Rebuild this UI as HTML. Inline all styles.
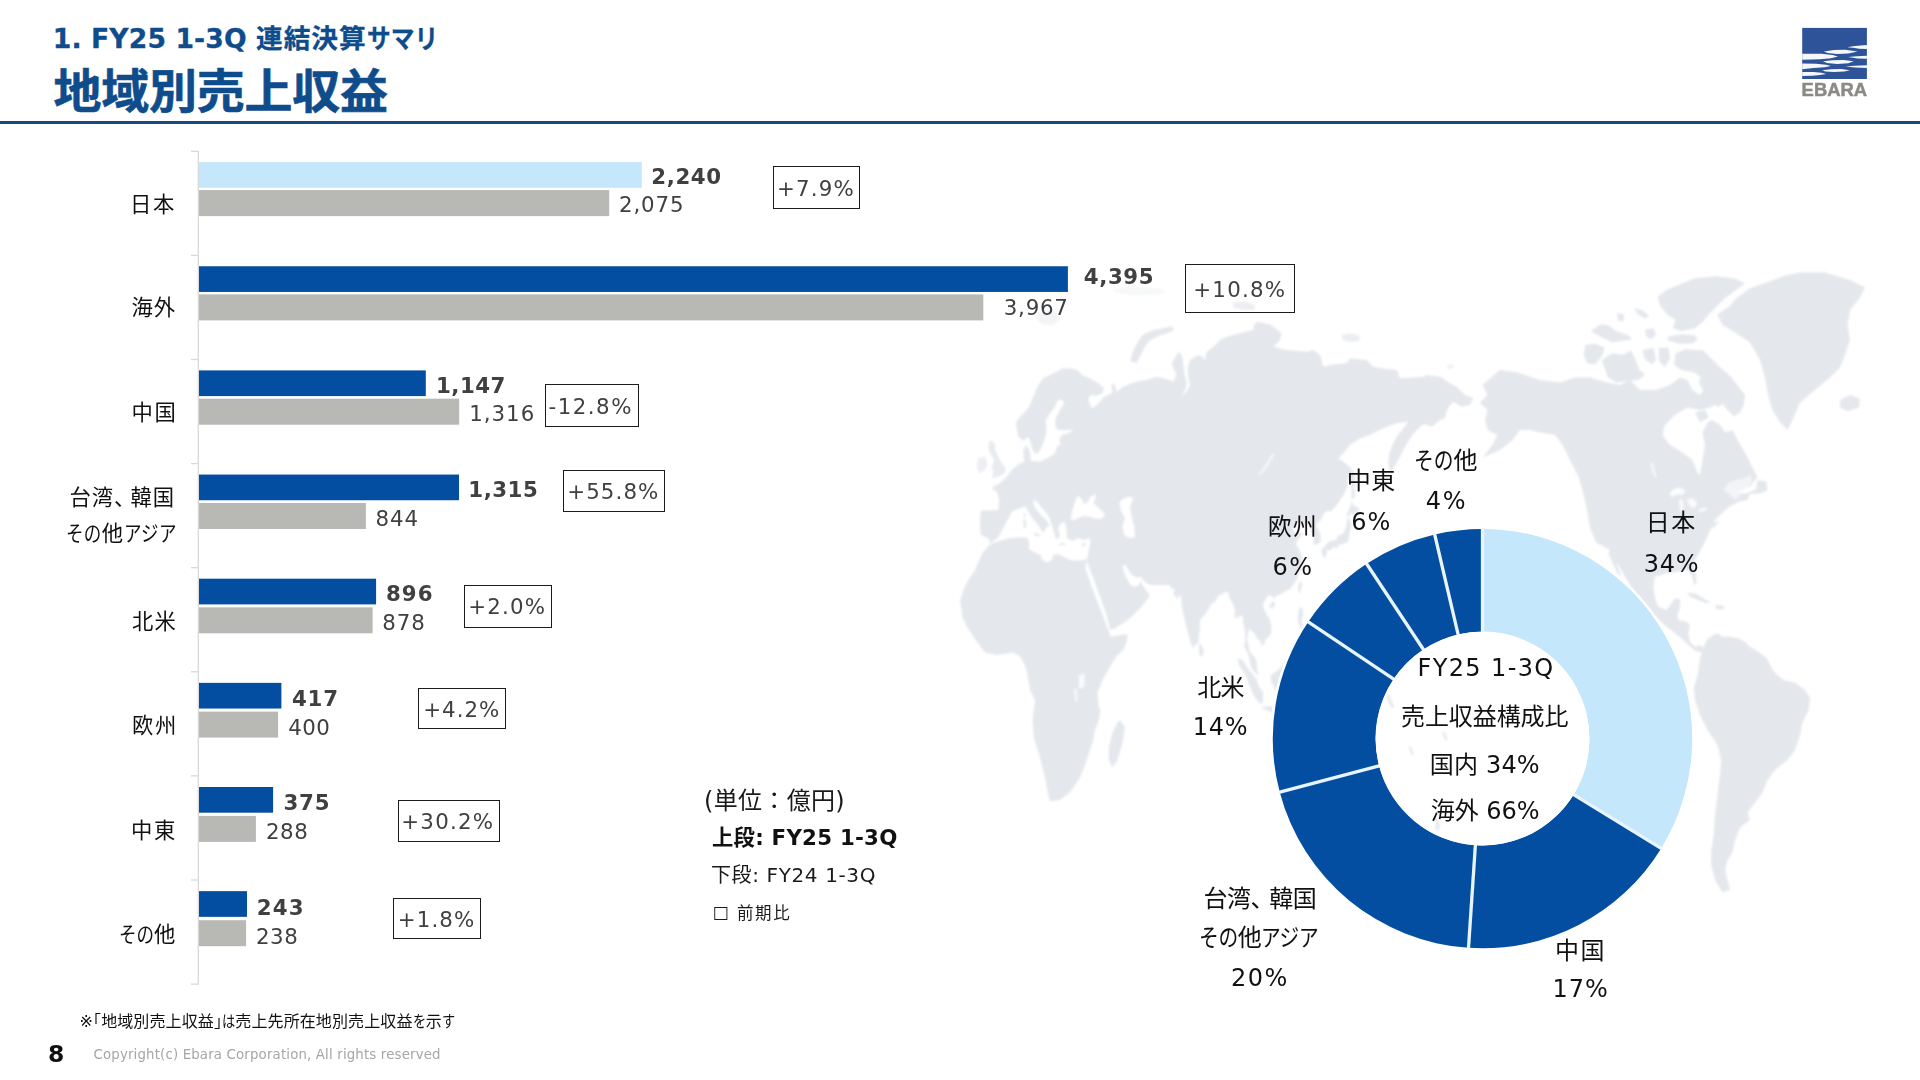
<!DOCTYPE html>
<html lang="ja"><head><meta charset="utf-8"><title>地域別売上収益</title>
<style>
*{margin:0;padding:0;box-sizing:border-box}
html,body{width:1920px;height:1080px;background:#fff;overflow:hidden}
body{position:relative;font-family:"DejaVu Sans","Liberation Sans","Noto Sans CJK JP",sans-serif;color:#111}
.abs{position:absolute;white-space:nowrap}
.t{position:absolute;white-space:nowrap;line-height:1}
.rule{left:0;top:120.8px;width:1920px;height:3.3px;background:#174A82}
.box{border:1.7px solid #1c1c1c}
.k{letter-spacing:-0.15em}
.h{letter-spacing:-0.42em}
</style></head>
<body>
<div class="t" id="h1" style="left:52.80px;top:25.80px;font-size:26.67px;color:#0F4C8C;font-weight:bold;-webkit-text-stroke:0.3px #0F4C8C;"><span style="letter-spacing:0.1px">1. FY25 1-3Q </span><span style="letter-spacing:1.0px">連結決算</span><span style="display:inline-block;transform:scaleX(0.89);transform-origin:0 50%;margin-right:-0.330em">サマリ</span></div>
<div class="t" id="h2" style="left:53.50px;top:68.00px;font-size:48px;color:#0F4C8C;font-weight:bold;letter-spacing:-0.250px;-webkit-text-stroke:0.6px #0F4C8C;transform:scaleY(0.96);transform-origin:50% 50%;">地域別売上収益</div>
<div class="abs rule"></div>
<svg class="abs" style="left:0;top:0" width="1920" height="1080" viewBox="0 0 1920 1080">
<defs><linearGradient id="mfl" x1="948" x2="1005" y1="0" y2="0" gradientUnits="userSpaceOnUse"><stop offset="0" stop-color="#fff" stop-opacity="0.5"/><stop offset="1" stop-color="#fff" stop-opacity="1"/></linearGradient><linearGradient id="mft" x1="0" x2="0" y1="270" y2="380" gradientUnits="userSpaceOnUse"><stop offset="0" stop-color="#000" stop-opacity="0.55"/><stop offset="1" stop-color="#000" stop-opacity="0"/></linearGradient><mask id="mm" maskUnits="userSpaceOnUse" x="900" y="250" width="1020" height="700"><rect x="900" y="250" width="1020" height="700" fill="url(#mfl)"/></mask><filter id="mb" x="-2%" y="-2%" width="104%" height="104%"><feGaussianBlur stdDeviation="0.9"/></filter></defs>
<g fill="#E4E7EC" fill-rule="evenodd" filter="url(#mb)">
<path d="M992.5 487.5L1000.0 483.3L1005.8 477.5L1011.7 470.0L1018.3 464.2L1024.2 461.7L1023.3 450.0L1026.7 445.0L1030.0 451.7L1030.8 460.8L1040.0 461.7L1048.3 457.5L1055.0 453.3L1056.7 446.7L1060.8 445.0L1059.2 440.0L1061.7 435.0L1068.3 433.3L1073.3 429.7L1065.0 430.0L1057.5 430.0L1055.0 425.0L1055.8 418.3L1060.0 410.0L1064.2 403.3L1061.7 399.2L1057.5 400.8L1055.0 406.7L1050.0 413.3L1045.8 420.0L1046.7 430.0L1045.0 438.3L1041.7 446.7L1037.5 454.2L1033.3 451.7L1030.8 443.3L1028.3 436.7L1023.3 440.8L1018.3 436.7L1015.8 422.5L1020.0 416.7L1028.3 408.3L1033.3 396.7L1038.3 385.0L1043.3 378.3L1053.3 373.3L1063.3 368.3L1073.3 368.7L1078.3 370.8L1081.7 375.0L1090.0 378.3L1098.3 383.3L1104.2 388.3L1102.5 393.3L1096.7 395.8L1090.0 395.0L1088.3 400.0L1091.7 408.3L1096.7 405.0L1100.0 401.7L1104.2 396.7L1108.3 395.0L1112.5 392.5L1111.7 385.0L1114.2 383.3L1116.7 391.7L1123.3 386.7L1131.7 383.3L1136.7 381.7L1145.0 380.0L1151.7 378.3L1156.7 376.7L1163.3 378.3L1170.0 380.0L1173.3 381.7L1176.7 375.0L1173.3 368.3L1171.7 363.3L1175.0 358.3L1178.3 351.7L1181.7 355.0L1183.3 363.3L1184.2 373.3L1186.7 383.3L1185.0 390.0L1181.7 395.8L1186.7 391.7L1190.0 385.0L1188.3 376.7L1187.5 368.3L1190.0 360.0L1195.0 356.7L1200.0 355.0L1205.0 360.0L1206.7 351.7L1213.3 346.7L1220.0 340.0L1226.7 336.7L1240.0 333.3L1253.3 330.0L1253.3 326.7L1256.7 321.7L1270.0 324.2L1281.7 333.3L1280.0 340.0L1273.3 346.7L1286.7 350.0L1306.7 351.7L1313.3 350.0L1320.0 355.0L1323.3 366.7L1333.3 364.2L1346.7 363.3L1350.0 358.3L1366.7 360.0L1373.3 366.7L1381.7 368.3L1396.7 370.0L1400.0 378.3L1413.3 377.5L1423.3 376.7L1426.7 375.0L1440.0 376.7L1450.0 383.3L1456.7 386.7L1465.0 395.0L1473.3 398.3L1470.0 405.0L1461.7 406.7L1453.3 401.7L1446.7 410.0L1445.0 418.3L1440.0 420.0L1431.7 426.7L1423.3 424.2L1416.7 430.0L1410.0 438.3L1405.0 446.7L1400.0 456.7L1394.2 466.7L1390.8 473.3L1388.3 463.3L1389.2 453.3L1391.7 446.7L1396.7 436.7L1403.3 428.3L1408.3 421.7L1396.7 423.3L1383.3 428.3L1370.0 435.0L1360.0 438.3L1350.0 445.0L1343.3 453.3L1338.3 458.3L1343.3 461.7L1350.0 466.7L1353.3 475.0L1355.8 486.7L1347.9 478.0L1347.4 485.9L1344.2 493.7L1340.6 499.6L1336.4 505.5L1330.7 511.4L1326.8 511.0L1323.6 514.2L1321.4 519.3L1317.2 523.2L1316.0 526.0L1318.2 529.1L1320.7 535.0L1320.7 540.9L1318.7 543.6L1314.8 544.8L1313.1 544.4L1313.6 539.7L1313.8 535.0L1311.1 531.8L1310.4 528.7L1308.6 524.0L1305.0 525.2L1301.5 527.5L1302.5 521.2L1300.1 520.1L1295.9 525.2L1292.2 527.9L1293.9 531.8L1296.4 534.2L1299.6 532.2L1303.7 533.8L1300.1 537.0L1297.1 540.9L1295.9 544.0L1298.6 548.7L1301.3 554.6L1302.3 558.6L1301.3 563.3L1302.0 568.4L1299.1 572.3L1297.1 578.2L1294.7 582.9L1292.2 586.1L1289.7 589.2L1285.3 591.2L1282.9 592.8L1279.2 595.1L1275.5 596.3L1273.8 599.4L1272.6 596.7L1269.6 595.1L1266.9 597.1L1264.7 601.0L1262.7 604.9L1264.5 610.4L1267.2 615.6L1270.1 619.9L1271.3 627.3L1271.1 633.2L1268.1 637.6L1265.2 639.9L1264.5 643.5L1261.3 646.2L1260.5 641.1L1257.3 638.7L1254.6 633.2L1251.0 630.5L1250.0 627.7L1248.5 631.3L1246.8 639.1L1248.3 643.9L1249.7 651.7L1252.9 654.9L1254.9 657.6L1256.8 662.7L1257.1 669.4L1258.8 674.9L1256.8 674.5L1252.2 669.4L1250.0 663.5L1249.2 656.8L1246.0 649.7L1244.3 647.0L1245.1 639.1L1245.1 631.3L1243.6 625.4L1242.6 616.3L1239.9 615.6L1237.0 618.3L1234.5 616.7L1235.0 609.7L1232.8 603.8L1229.6 597.9L1228.4 592.8L1225.2 592.0L1221.5 594.7L1219.0 595.1L1216.6 598.7L1215.1 601.8L1211.9 603.8L1208.0 609.7L1205.0 614.8L1201.1 618.3L1199.6 621.4L1200.1 628.1L1198.9 635.2L1198.9 639.9L1196.9 643.9L1195.0 645.4L1193.3 648.6L1190.8 643.1L1188.4 634.0L1186.6 627.3L1184.7 619.5L1183.0 611.6L1181.7 605.7L1181.2 597.9L1180.3 594.7L1177.3 599.0L1172.9 593.2L1175.6 590.0L1171.2 587.7L1168.5 584.1L1168.3 585.0L1160.0 585.0L1150.0 585.0L1144.2 581.7L1141.7 577.5L1134.2 576.7L1129.2 571.7L1125.8 565.0L1122.5 565.8L1124.2 573.3L1127.5 580.0L1130.8 585.0L1135.0 586.7L1139.2 585.0L1140.0 580.0L1142.5 585.0L1145.8 590.0L1149.7 595.0L1148.3 598.3L1140.0 608.3L1131.7 616.7L1123.3 623.3L1115.0 628.3L1110.0 630.0L1106.7 615.0L1100.0 596.7L1093.3 578.3L1088.3 565.0L1086.7 560.8L1087.5 558.3L1088.3 551.7L1090.0 545.0L1090.4 538.3L1083.3 540.0L1078.3 538.3L1071.7 540.8L1066.7 538.3L1066.7 531.7L1065.8 525.0L1064.2 521.7L1063.3 521.7L1059.2 525.0L1058.3 530.0L1060.0 535.0L1057.5 540.0L1055.0 536.7L1054.2 531.7L1051.7 525.0L1050.0 519.2L1046.7 513.3L1041.7 507.5L1036.7 501.7L1034.2 499.2L1033.3 504.2L1036.7 510.0L1041.7 515.8L1046.7 520.8L1050.0 525.4L1046.7 526.7L1045.0 530.0L1043.3 533.3L1040.8 529.2L1037.5 524.2L1033.3 519.2L1029.2 513.3L1026.7 508.3L1025.0 506.2L1020.0 508.3L1013.3 510.8L1010.8 513.3L1009.2 517.5L1005.8 523.3L1002.5 529.2L1000.0 534.2L997.5 538.3L990.0 543.3L988.3 538.3L980.8 535.0L980.0 523.3L980.8 510.8L998.3 510.0L999.2 500.0L996.7 491.7L991.7 488.3ZM1070.8 520.0L1071.7 513.3L1073.3 507.5L1075.8 499.2L1078.3 495.8L1081.7 499.2L1084.2 504.2L1088.3 501.7L1090.0 496.7L1095.8 494.2L1095.0 499.2L1093.3 503.3L1098.3 507.5L1104.2 513.3L1104.2 516.7L1100.0 519.2L1091.7 517.5L1085.0 515.8L1079.2 517.5L1075.0 520.0ZM1121.7 500.0L1128.3 496.7L1133.3 498.3L1130.0 506.7L1131.7 516.7L1134.2 526.7L1135.0 536.7L1130.0 538.3L1124.2 535.0L1122.5 526.7L1125.0 518.3L1120.8 510.0L1119.2 503.3Z"/>
<path d="M990.0 544.2L1000.0 540.8L1008.3 538.3L1016.7 537.5L1027.5 537.5L1029.2 543.3L1029.2 549.2L1035.0 552.5L1040.8 555.0L1041.7 559.2L1046.7 562.5L1051.7 560.0L1053.3 555.0L1058.3 554.2L1063.3 556.7L1070.0 560.0L1077.5 560.8L1084.2 560.0L1087.1 558.8L1085.3 568.3L1090.0 581.7L1096.7 600.0L1103.3 616.7L1108.3 630.0L1110.8 636.7L1120.0 635.0L1127.5 634.2L1126.7 641.7L1123.3 650.0L1117.5 655.0L1112.5 662.5L1102.5 680.0L1097.5 692.5L1098.8 707.5L1100.5 710.0L1098.8 720.0L1095.0 730.0L1092.5 742.5L1090.0 750.0L1085.0 765.0L1080.0 777.5L1070.0 792.5L1060.0 800.0L1050.0 801.2L1048.8 797.5L1045.0 777.5L1040.0 757.5L1033.8 737.5L1032.5 720.0L1035.0 700.0L1030.0 690.0L1027.5 675.0L1025.0 665.0L1020.0 656.2L1012.5 652.5L997.5 655.0L985.0 652.5L977.5 642.5L968.8 630.0L962.5 617.5L960.0 600.0L960.8 599.2L963.3 590.0L968.3 580.0L975.0 570.0L979.2 560.0L983.3 551.7Z"/>
<path d="M1120.0 720.0L1125.0 727.5L1122.5 742.5L1117.5 760.0L1112.5 767.5L1108.8 760.0L1108.8 747.5L1112.5 732.5L1117.5 722.5Z"/>
<path d="M1033.3 532.5L1039.2 534.2L1040.0 536.7L1035.0 536.0Z"/>
<path d="M1023.3 519.2L1026.0 520.0L1026.3 527.5L1023.8 528.3Z"/>
<path d="M1023.8 513.3L1025.8 513.8L1025.7 517.5L1024.0 517.3Z"/>
<path d="M1058.8 543.5L1065.8 543.2L1066.0 545.0L1059.2 545.2Z"/>
<path d="M1081.7 543.8L1085.8 542.9L1085.4 545.8L1082.1 546.0Z"/>
<path d="M990.0 440.0L995.0 443.3L995.0 450.0L998.3 456.7L1001.7 463.3L1005.8 468.3L1005.0 473.3L998.3 476.7L991.7 478.3L993.3 471.7L991.7 466.7L994.2 460.0L990.0 453.3L988.3 446.7Z" opacity="0.85"/>
<path d="M978.3 458.3L985.0 456.7L987.5 463.3L985.0 470.0L979.2 473.3L976.7 466.7Z" opacity="0.7"/>
<path d="M1130.0 360.8L1133.0 351.7L1138.0 341.3L1143.3 334.3L1153.0 330.3L1163.3 328.3L1172.0 326.3L1174.0 330.3L1164.0 334.3L1156.0 337.0L1149.0 341.3L1144.3 347.7L1140.3 356.0L1136.3 363.3Z"/>
<path d="M1037.5 313.8L1047.5 310.0L1057.5 312.5L1060.0 320.0L1052.5 325.0L1042.5 324.5L1037.0 320.0Z" opacity="0.45"/>
<path d="M1113.8 288.8L1127.5 286.2L1145.0 287.0L1163.8 289.5L1165.0 293.8L1145.0 295.0L1125.0 294.5L1114.5 292.5Z" opacity="0.3"/>
<path d="M1341.7 335.0L1350.0 333.3L1360.0 335.8L1359.2 340.8L1350.0 341.7L1342.5 340.0Z" opacity="0.75"/>
<path d="M1446.7 365.0L1453.3 364.7L1454.2 368.0L1447.5 368.7Z" opacity="0.6"/>
<path d="M1232.5 302.5L1245.0 301.2L1255.0 305.0L1253.8 310.0L1242.5 310.0L1233.8 307.5Z" opacity="0.7"/>
<path d="M1324.4 547.2L1327.1 543.2L1330.3 540.9L1334.4 540.5L1336.9 538.9L1338.8 534.2L1340.1 535.8L1343.0 533.4L1345.5 529.1L1346.7 524.0L1346.7 520.1L1349.2 517.7L1350.4 521.2L1351.6 525.2L1350.4 529.9L1349.2 535.0L1348.7 539.7L1346.7 542.8L1344.7 542.8L1343.5 544.0L1340.6 544.4L1338.8 545.2L1336.9 548.7L1334.7 546.8L1333.2 547.6L1329.5 550.7L1327.8 549.5L1326.6 549.5L1327.1 551.9L1325.6 557.0L1323.6 558.2L1322.6 554.6L1321.7 551.9L1321.7 549.1L1323.1 548.0Z"/>
<path d="M1347.2 517.3L1346.7 513.4L1348.7 510.2L1350.6 505.5L1351.4 501.6L1354.1 505.5L1357.7 507.5L1360.0 509.8L1356.5 511.8L1354.6 515.3L1351.1 513.4L1348.9 514.2L1349.2 516.5Z"/>
<path d="M1351.6 499.6L1351.6 491.8L1351.6 483.9L1352.1 476.0L1353.6 468.2L1354.8 474.1L1354.8 481.9L1354.1 487.8L1355.3 493.7L1354.1 498.8Z"/>
<path d="M1300.1 581.4L1302.3 582.9L1301.0 589.2L1299.6 593.9L1297.8 590.0L1298.6 584.9Z"/>
<path d="M1269.9 604.6L1272.1 601.8L1275.3 602.2L1274.0 606.9L1271.8 608.9L1269.9 607.3Z"/>
<path d="M1199.2 642.3L1201.6 645.4L1203.8 650.9L1202.6 655.6L1199.9 656.8L1198.9 650.9Z"/>
<path d="M1299.1 607.7L1303.0 608.1L1303.2 615.6L1301.5 619.5L1302.5 625.4L1307.4 629.3L1307.4 631.3L1311.1 637.2L1313.1 647.0L1312.3 654.9L1310.6 656.8L1307.4 651.7L1302.5 652.9L1304.5 643.1L1305.0 637.2L1302.5 633.2L1299.6 626.2L1297.6 619.5L1298.3 614.4Z"/>
<path d="M1237.0 658.4L1242.4 660.0L1249.5 670.6L1255.9 678.4L1259.5 687.5L1263.2 692.2L1262.7 703.2L1259.5 703.2L1254.1 696.1L1249.7 686.3L1245.3 674.5L1239.9 666.6Z"/>
<path d="M1270.6 674.5L1274.3 673.3L1280.4 667.8L1286.6 658.8L1290.2 652.9L1295.6 660.0L1292.2 666.6L1294.7 676.5L1291.5 682.4L1289.0 690.2L1287.8 696.1L1284.1 696.1L1280.4 693.0L1276.7 692.2L1273.5 686.3L1271.1 681.6Z"/>
<path d="M1261.3 707.1L1269.4 706.3L1275.5 706.7L1283.9 710.3L1284.1 714.6L1273.0 712.6L1264.5 709.5Z"/>
<path d="M1482.5 385.0L1500.0 370.0L1517.5 372.5L1540.0 380.0L1560.0 382.5L1575.0 377.5L1590.0 377.5L1607.5 382.5L1620.0 385.0L1630.0 380.0L1640.0 390.0L1655.0 390.0L1670.0 385.0L1680.0 377.5L1687.5 380.0L1692.5 390.0L1700.0 395.0L1707.5 385.0L1715.0 380.0L1722.5 390.0L1720.0 402.5L1710.0 407.5L1700.0 410.0L1687.5 407.5L1675.0 415.0L1665.0 425.0L1662.5 435.0L1670.0 445.0L1682.5 452.5L1692.5 460.0L1697.5 472.5L1700.0 475.0L1702.5 460.0L1705.0 445.0L1702.5 432.5L1707.5 422.5L1712.5 420.0L1720.0 425.0L1725.0 432.5L1732.5 430.0L1737.5 440.0L1745.0 452.5L1752.5 467.5L1757.5 477.5L1750.0 486.2L1737.5 492.5L1745.0 493.8L1755.0 490.0L1761.2 486.2L1765.0 490.0L1757.5 493.8L1750.0 493.8L1747.5 500.0L1740.0 501.2L1730.0 506.2L1722.5 512.5L1715.0 520.0L1712.5 530.0L1705.0 540.0L1720.0 520.0L1715.0 523.3L1710.0 530.0L1706.7 538.3L1701.7 548.3L1696.7 556.7L1693.3 566.7L1695.8 575.0L1696.7 583.3L1694.2 585.0L1692.5 578.3L1690.0 571.7L1686.7 570.0L1678.3 571.7L1666.7 573.3L1655.0 576.7L1653.3 586.7L1655.0 598.3L1658.3 606.7L1666.7 610.0L1671.7 603.3L1675.0 598.3L1680.0 599.2L1680.0 606.7L1677.5 615.0L1678.3 620.0L1686.7 621.7L1690.0 625.0L1688.3 633.3L1690.0 641.7L1695.0 646.7L1700.0 645.0L1703.3 648.3L1706.7 641.7L1706.7 640.0L1708.3 646.7L1701.7 651.7L1696.7 651.7L1690.0 646.7L1683.3 640.0L1675.0 633.3L1666.7 626.7L1655.0 616.7L1643.3 603.3L1633.3 590.0L1625.0 576.7L1618.3 565.0L1613.3 556.7L1610.0 550.0L1596.2 542.5L1590.0 527.5L1587.5 512.5L1583.8 495.0L1578.8 477.5L1570.0 460.0L1562.5 445.0L1555.0 435.0L1540.0 432.5L1530.0 430.0L1520.0 430.0L1512.5 440.0L1500.0 450.0L1482.5 457.5L1492.5 445.0L1497.5 435.0L1487.5 430.0L1485.0 420.0L1487.5 410.0L1480.0 402.5L1487.5 395.0Z"/>
<path d="M1610.0 550.0L1613.3 553.3L1618.3 568.3L1620.8 575.0L1618.3 575.0L1613.3 565.0L1608.3 553.3Z"/>
<path d="M1757.5 480.0L1766.2 481.2L1767.5 490.0L1760.0 493.8L1756.2 487.5Z"/>
<path d="M1686.7 593.3L1695.0 593.3L1703.3 598.3L1710.0 601.7L1706.7 603.3L1698.3 600.0L1690.0 596.7Z"/>
<path d="M1715.0 605.0L1723.3 605.8L1724.2 609.2L1716.7 609.2Z"/>
<path d="M1675.5 353.2L1685.2 349.2L1703.2 350.5L1711.8 359.0L1720.0 367.2L1729.8 375.5L1739.5 388.0L1745.0 395.0L1743.8 405.0L1740.0 412.5L1733.8 416.2L1727.5 410.0L1722.5 403.8L1717.5 407.5L1713.8 400.0L1709.0 395.0L1703.2 390.0L1698.8 382.5L1700.5 377.5L1695.0 372.8L1681.0 370.0L1674.2 364.5Z"/>
<path d="M1657.5 296.4L1667.2 289.4L1681.1 283.9L1695.0 278.3L1715.8 276.2L1733.9 278.3L1745.0 283.2L1736.7 289.4L1725.6 297.8L1717.2 306.1L1708.9 314.4L1701.9 322.8L1695.0 328.3L1681.1 331.1L1672.8 328.3L1675.6 320.0L1667.2 314.4L1660.3 306.1Z"/>
<path d="M1633.9 308.2L1642.2 310.3L1649.2 315.8L1645.0 318.6L1638.1 314.4Z"/>
<path d="M1667.2 336.7L1681.1 334.6L1695.0 335.3L1697.8 339.4L1692.2 343.6L1678.3 343.6L1668.6 340.8Z"/>
<path d="M1590.8 331.1L1600.6 324.2L1608.9 325.6L1615.8 331.1L1628.3 335.3L1632.5 339.4L1622.8 340.8L1611.7 342.2L1600.6 336.7Z"/>
<path d="M1617.2 313.1L1624.2 314.4L1623.5 321.4L1617.9 320.7Z"/>
<path d="M1645.0 329.7L1653.3 328.3L1656.1 335.3L1650.6 339.4L1646.4 336.7Z"/>
<path d="M1585.3 345.0L1595.0 343.6L1604.7 347.8L1601.9 356.1L1595.0 364.4L1586.7 363.1L1583.9 354.7Z"/>
<path d="M1601.9 360.3L1611.7 353.3L1622.8 354.7L1631.1 350.6L1635.3 358.9L1639.4 370.0L1645.0 374.2L1639.4 379.7L1628.3 381.1L1615.8 382.5L1607.5 376.9L1604.7 368.6Z"/>
<path d="M1642.2 350.6L1653.3 347.8L1656.1 358.9L1651.9 364.4L1645.0 358.9Z"/>
<path d="M1658.9 347.8L1668.6 347.8L1670.0 358.9L1664.4 367.2L1658.9 360.3Z"/>
<path d="M1695.0 412.5L1705.0 410.0L1708.8 417.5L1700.0 422.5Z"/>
<path d="M1717.2 314.5L1729.8 306.0L1736.8 297.8L1750.5 288.0L1770.0 281.2L1785.0 275.5L1800.0 272.5L1825.0 272.5L1850.0 280.0L1865.0 287.5L1860.0 297.5L1850.0 310.0L1847.5 325.0L1850.0 340.0L1845.0 355.0L1840.0 367.5L1830.0 377.5L1815.0 390.0L1800.0 402.5L1792.5 420.0L1787.5 430.0L1780.0 422.5L1772.5 410.0L1767.5 392.5L1765.0 377.5L1760.0 360.0L1750.0 342.5L1735.0 332.5L1722.5 325.0Z"/>
<path d="M1840.0 400.0L1850.0 395.0L1860.0 398.8L1858.8 407.5L1847.5 411.2L1840.0 407.5Z"/>
<path d="M1706.7 640.0L1713.3 635.0L1718.3 633.3L1721.7 636.7L1730.0 636.7L1738.3 638.3L1745.0 641.7L1750.0 646.7L1758.3 651.7L1766.7 658.3L1770.0 665.0L1775.0 673.3L1783.3 680.0L1795.0 682.5L1805.0 690.0L1810.0 697.5L1808.8 710.0L1802.5 722.5L1800.0 735.0L1795.0 750.0L1787.5 760.0L1775.0 770.0L1767.5 780.0L1762.5 792.5L1755.0 802.5L1747.5 812.5L1750.0 820.0L1740.0 827.5L1735.0 840.0L1732.5 852.5L1727.5 860.0L1725.0 870.0L1727.5 880.0L1730.0 890.0L1722.5 892.5L1715.0 880.0L1711.2 865.0L1711.2 850.0L1713.8 835.0L1715.0 815.0L1717.5 795.0L1720.0 775.0L1721.2 760.0L1717.5 745.0L1707.5 730.0L1700.0 715.0L1695.0 700.0L1693.8 687.5L1697.5 675.0L1700.0 662.5L1695.0 690.0L1696.7 680.0L1698.3 670.0L1700.0 658.3L1701.7 651.7Z"/>
<path d="M1282.9 766.9L1302.5 751.1L1319.7 739.4L1324.6 727.6L1338.1 727.6L1336.9 741.3L1347.9 749.2L1352.8 722.8L1360.2 739.4L1368.8 762.9L1378.6 782.6L1377.4 806.2L1371.2 825.8L1361.4 833.7L1346.7 829.7L1341.8 818.0L1335.7 818.0L1324.6 804.2L1307.4 812.1L1291.5 818.0L1285.3 810.1L1282.9 786.5Z"/>
<path d="M1324.6 684.3L1332.0 683.5L1341.8 687.5L1349.2 690.6L1359.0 698.1L1365.1 704.0L1372.5 721.7L1363.9 717.7L1355.3 713.8L1349.2 715.8L1341.8 712.6L1340.6 702.0L1330.7 696.1L1327.1 691.4Z"/>
<path d="M1669.2 493.3L1673.3 489.2L1679.2 487.5L1685.0 490.0L1683.3 495.0L1677.5 494.2L1671.7 496.7Z" fill="#fff" opacity="0.85"/>
<path d="M1679.2 500.0L1682.5 499.2L1683.8 506.7L1681.7 512.5L1679.6 508.3Z" fill="#fff" opacity="0.8"/>
<path d="M1686.7 499.2L1693.3 498.3L1697.5 503.3L1694.2 508.3L1689.2 505.8Z" fill="#fff" opacity="0.8"/>
<path d="M1697.5 510.0L1703.3 507.5L1707.5 507.5L1706.7 510.0L1700.0 512.5Z" fill="#fff" opacity="0.7"/>
<path d="M1650.0 463.3L1652.5 462.5L1656.7 476.7L1654.6 477.5Z" fill="#fff" opacity="0.7"/>
<path d="M1723.3 490.0L1728.3 483.3L1735.8 480.0L1744.2 478.3L1750.8 475.0L1751.7 481.7L1746.7 488.3L1740.0 495.0L1735.8 500.0L1731.7 496.7L1727.5 493.3Z" fill="#fff" opacity="0.55"/>
<path d="M1078.9 674.9L1084.9 674.0L1084.0 687.7L1078.9 688.5Z" fill="#fff" opacity="0.8"/>
<path d="M1073.8 688.5L1076.8 688.5L1077.7 701.3L1075.1 701.3Z" fill="#fff" opacity="0.7"/>
<path d="M1260 474.5Q1267 466 1273 454.5" fill="none" stroke="#fff" stroke-width="1.7" stroke-linecap="round" opacity="0.85"/>
</g></svg>
<svg class="abs" style="left:0;top:0" width="1920" height="1080" viewBox="0 0 1920 1080">
<line x1="198.3" y1="151" x2="198.3" y2="984.5" stroke="#D9D9D9" stroke-width="1.3"/>
<line x1="191" y1="151.3" x2="198.5" y2="151.3" stroke="#D9D9D9" stroke-width="1.3"/>
<line x1="191" y1="255.4" x2="198.5" y2="255.4" stroke="#D9D9D9" stroke-width="1.3"/>
<line x1="191" y1="359.5" x2="198.5" y2="359.5" stroke="#D9D9D9" stroke-width="1.3"/>
<line x1="191" y1="463.6" x2="198.5" y2="463.6" stroke="#D9D9D9" stroke-width="1.3"/>
<line x1="191" y1="567.7" x2="198.5" y2="567.7" stroke="#D9D9D9" stroke-width="1.3"/>
<line x1="191" y1="671.8" x2="198.5" y2="671.8" stroke="#D9D9D9" stroke-width="1.3"/>
<line x1="191" y1="775.9" x2="198.5" y2="775.9" stroke="#D9D9D9" stroke-width="1.3"/>
<line x1="191" y1="880.0" x2="198.5" y2="880.0" stroke="#D9D9D9" stroke-width="1.3"/>
<line x1="191" y1="984.1" x2="198.5" y2="984.1" stroke="#D9D9D9" stroke-width="1.3"/>
<rect x="199.0" y="162.10" width="442.8" height="25.7" fill="#C5E7FB"/>
<rect x="199.0" y="190.10" width="410.2" height="26" fill="#B8B9B4"/>
<rect x="199.0" y="266.25" width="868.9" height="25.7" fill="#034EA1"/>
<rect x="199.0" y="294.40" width="784.3" height="26" fill="#B8B9B4"/>
<rect x="199.0" y="370.40" width="226.8" height="25.7" fill="#034EA1"/>
<rect x="199.0" y="398.70" width="260.2" height="26" fill="#B8B9B4"/>
<rect x="199.0" y="474.55" width="260.0" height="25.7" fill="#034EA1"/>
<rect x="199.0" y="503.00" width="166.9" height="26" fill="#B8B9B4"/>
<rect x="199.0" y="578.70" width="177.1" height="25.7" fill="#034EA1"/>
<rect x="199.0" y="607.30" width="173.6" height="26" fill="#B8B9B4"/>
<rect x="199.0" y="682.85" width="82.4" height="25.7" fill="#034EA1"/>
<rect x="199.0" y="711.60" width="79.1" height="26" fill="#B8B9B4"/>
<rect x="199.0" y="787.00" width="74.1" height="25.7" fill="#034EA1"/>
<rect x="199.0" y="815.90" width="56.9" height="26" fill="#B8B9B4"/>
<rect x="199.0" y="891.15" width="48.0" height="25.7" fill="#034EA1"/>
<rect x="199.0" y="920.20" width="47.1" height="26" fill="#B8B9B4"/>
</svg>
<div class="t" id="c1" style="left:130.00px;top:193.55px;font-size:21.33px;color:#111;letter-spacing:1.600px;">日本</div>
<div class="t" id="va1" style="left:651.20px;top:165.60px;font-size:21.33px;color:#404040;font-weight:bold;letter-spacing:0.625px;">2,240</div>
<div class="t" id="vb1" style="left:619.00px;top:193.90px;font-size:21.33px;color:#404040;letter-spacing:0.875px;">2,075</div>
<div class="abs box" style="left:772.8px;top:166.2px;width:87.2px;height:42.5px"></div>
<div class="t" id="p1" style="left:777.00px;top:178.25px;font-size:21.33px;color:#404040;letter-spacing:1.150px;">+7.9%</div>
<div class="t" id="c2" style="left:131.50px;top:297.15px;font-size:21.33px;color:#111;letter-spacing:1.000px;">海外</div>
<div class="t" id="va2" style="left:1083.70px;top:266.20px;font-size:21.33px;color:#404040;font-weight:bold;letter-spacing:0.625px;">4,395</div>
<div class="t" id="vb2" style="left:1003.80px;top:297.00px;font-size:21.33px;color:#404040;letter-spacing:0.750px;">3,967</div>
<div class="abs box" style="left:1185.0px;top:264.2px;width:109.7px;height:48.8px"></div>
<div class="t" id="p2" style="left:1193.30px;top:278.90px;font-size:21.33px;color:#404040;letter-spacing:1.200px;">+10.8%</div>
<div class="t" id="c3" style="left:131.50px;top:402.00px;font-size:21.33px;color:#111;letter-spacing:1.600px;">中国</div>
<div class="t" id="va3" style="left:436.00px;top:375.00px;font-size:21.33px;color:#404040;font-weight:bold;letter-spacing:0.500px;">1,147</div>
<div class="t" id="vb3" style="left:469.20px;top:403.30px;font-size:21.33px;color:#404040;letter-spacing:1.000px;">1,316</div>
<div class="abs box" style="left:544.5px;top:383.8px;width:94.2px;height:43.7px"></div>
<div class="t" id="p3" style="left:548.50px;top:396.45px;font-size:21.33px;color:#404040;letter-spacing:1.500px;">-12.8%</div>
<div class="t" id="c4a" style="left:69.50px;top:487.00px;font-size:21.33px;color:#111;letter-spacing:0.875px;">台湾<span class="h">、</span><span style="margin-left:0.2em">韓国</span></div>
<div class="t" id="c4b" style="left:66.00px;top:523.00px;font-size:21.33px;color:#111;letter-spacing:0.400px;"><span style="display:inline-block;transform:scaleX(0.82);transform-origin:0 50%;margin-right:-0.360em">その</span>他<span style="display:inline-block;transform:scaleX(0.82);transform-origin:0 50%;margin-right:-0.540em">アジア</span></div>
<div class="t" id="va4" style="left:468.30px;top:479.20px;font-size:21.33px;color:#404040;font-weight:bold;letter-spacing:0.500px;">1,315</div>
<div class="t" id="vb4" style="left:375.40px;top:508.00px;font-size:21.33px;color:#404040;letter-spacing:1.000px;">844</div>
<div class="abs box" style="left:562.8px;top:470.0px;width:102.2px;height:42.0px"></div>
<div class="t" id="p4" style="left:567.20px;top:481.30px;font-size:21.33px;color:#404040;letter-spacing:1.100px;">+55.8%</div>
<div class="t" id="c5" style="left:132.00px;top:610.70px;font-size:21.33px;color:#111;letter-spacing:1.100px;">北米</div>
<div class="t" id="va5" style="left:386.00px;top:582.80px;font-size:21.33px;color:#404040;font-weight:bold;letter-spacing:1.000px;">896</div>
<div class="t" id="vb5" style="left:382.20px;top:612.20px;font-size:21.33px;color:#404040;letter-spacing:1.000px;">878</div>
<div class="abs box" style="left:464.2px;top:584.5px;width:88.3px;height:43.0px"></div>
<div class="t" id="p5" style="left:468.30px;top:596.30px;font-size:21.33px;color:#404040;letter-spacing:1.150px;">+2.0%</div>
<div class="t" id="c6" style="left:132.00px;top:714.80px;font-size:21.33px;color:#111;letter-spacing:1.600px;">欧州</div>
<div class="t" id="va6" style="left:292.00px;top:687.50px;font-size:21.33px;color:#404040;font-weight:bold;letter-spacing:0.750px;">417</div>
<div class="t" id="vb6" style="left:288.20px;top:717.00px;font-size:21.33px;color:#404040;letter-spacing:0.500px;">400</div>
<div class="abs box" style="left:418.0px;top:687.5px;width:88.3px;height:41.7px"></div>
<div class="t" id="p6" style="left:423.20px;top:699.15px;font-size:21.33px;color:#404040;letter-spacing:1.025px;">+4.2%</div>
<div class="t" id="c7" style="left:131.00px;top:819.90px;font-size:21.33px;color:#111;letter-spacing:1.600px;">中東</div>
<div class="t" id="va7" style="left:283.50px;top:792.20px;font-size:21.33px;color:#404040;font-weight:bold;letter-spacing:0.750px;">375</div>
<div class="t" id="vb7" style="left:266.00px;top:821.20px;font-size:21.33px;color:#404040;letter-spacing:0.500px;">288</div>
<div class="abs box" style="left:398.3px;top:800.0px;width:101.4px;height:42.0px"></div>
<div class="t" id="p7" style="left:401.30px;top:811.30px;font-size:21.33px;color:#404040;letter-spacing:1.200px;">+30.2%</div>
<div class="t" id="c8" style="left:119.00px;top:923.50px;font-size:21.33px;color:#111;"><span style="display:inline-block;transform:scaleX(0.82);transform-origin:0 50%;margin-right:-0.360em">その</span>他</div>
<div class="t" id="va8" style="left:256.70px;top:897.20px;font-size:21.33px;color:#404040;font-weight:bold;letter-spacing:1.250px;">243</div>
<div class="t" id="vb8" style="left:256.00px;top:926.20px;font-size:21.33px;color:#404040;letter-spacing:0.500px;">238</div>
<div class="abs box" style="left:393.3px;top:897.5px;width:88.0px;height:41.7px"></div>
<div class="t" id="p8" style="left:397.70px;top:909.15px;font-size:21.33px;color:#404040;letter-spacing:1.150px;">+1.8%</div>
<div class="t" id="l1" style="left:704.00px;top:788.50px;font-size:24px;color:#1a1a1a;letter-spacing:0.333px;">(単位：億円)</div>
<div class="t" id="l2" style="left:712.00px;top:826.80px;font-size:21.33px;color:#111;font-weight:bold;letter-spacing:0.242px;">上段: FY25 1-3Q</div>
<div class="t" id="l3" style="left:711.00px;top:865.40px;font-size:20px;color:#1a1a1a;letter-spacing:0.617px;">下段: FY24 1-3Q</div>
<div class="t" id="l4" style="left:712.50px;top:905.00px;font-size:16.5px;color:#1a1a1a;letter-spacing:1.600px;"><span style="font-size:17px;position:relative;top:-1.5px">□</span> 前期比</div>
<div class="t" id="f1" style="left:79.50px;top:1014.00px;font-size:16px;color:#111;letter-spacing:0.113px;">※｢地域別売上収益｣<span style="display:inline-block;transform:scaleX(0.82);transform-origin:0 50%;margin-right:-0.180em">は</span>売上先所在地別売上収益<span style="display:inline-block;transform:scaleX(0.82);transform-origin:0 50%;margin-right:-0.180em">を</span>示<span style="display:inline-block;transform:scaleX(0.82);transform-origin:0 50%;margin-right:-0.180em">す</span></div>
<div class="t" id="f2" style="left:48.00px;top:1043.00px;font-size:23.5px;color:#111;font-weight:bold;">8</div>
<div class="t" id="f3" style="left:93.50px;top:1047.70px;font-size:13.33px;color:#A6A6A6;letter-spacing:0.160px;">Copyright(c) Ebara Corporation, All rights reserved</div>
<svg class="abs" style="left:0;top:0" width="1920" height="1080" viewBox="0 0 1920 1080">
<circle cx="1482.5" cy="738.6" r="212.29999999999998" fill="#fff"/>
<path d="M1482.50 528.90A209.7 209.7 0 0 1 1661.16 848.40L1573.66 794.63A107.0 107.0 0 0 0 1482.50 631.60Z" fill="#C5E7FB"/>
<path d="M1661.16 848.40A209.7 209.7 0 0 1 1468.51 947.83L1475.36 845.36A107.0 107.0 0 0 0 1573.66 794.63Z" fill="#034EA1"/>
<path d="M1468.51 947.83A209.7 209.7 0 0 1 1279.76 792.18L1379.05 765.94A107.0 107.0 0 0 0 1475.36 845.36Z" fill="#034EA1"/>
<path d="M1279.76 792.18A209.7 209.7 0 0 1 1308.30 621.86L1393.61 679.04A107.0 107.0 0 0 0 1379.05 765.94Z" fill="#034EA1"/>
<path d="M1308.30 621.86A209.7 209.7 0 0 1 1366.63 563.82L1423.38 649.42A107.0 107.0 0 0 0 1393.61 679.04Z" fill="#034EA1"/>
<path d="M1366.63 563.82A209.7 209.7 0 0 1 1434.66 534.43L1458.09 634.42A107.0 107.0 0 0 0 1423.38 649.42Z" fill="#034EA1"/>
<path d="M1434.66 534.43A209.7 209.7 0 0 1 1482.50 528.90L1482.50 631.60A107.0 107.0 0 0 0 1458.09 634.42Z" fill="#034EA1"/>
<line x1="1482.50" y1="632.60" x2="1482.50" y2="527.90" stroke="#E9F5FE" stroke-width="3.3"/>
<line x1="1572.81" y1="794.10" x2="1662.01" y2="848.92" stroke="#E9F5FE" stroke-width="3.3"/>
<line x1="1475.43" y1="844.36" x2="1468.44" y2="948.83" stroke="#E9F5FE" stroke-width="3.3"/>
<line x1="1380.02" y1="765.68" x2="1278.79" y2="792.43" stroke="#E9F5FE" stroke-width="3.3"/>
<line x1="1394.44" y1="679.59" x2="1307.47" y2="621.31" stroke="#E9F5FE" stroke-width="3.3"/>
<line x1="1423.93" y1="650.25" x2="1366.08" y2="562.98" stroke="#E9F5FE" stroke-width="3.3"/>
<line x1="1458.32" y1="635.40" x2="1434.43" y2="533.46" stroke="#E9F5FE" stroke-width="3.3"/>
<circle cx="1482.5" cy="738.6" r="106.8" fill="#fff"/>
<g fill="#DDE1E8" opacity="0.75" filter="url(#mb)"><path d="M1386 694.5L1388.5 694 1394 706.5 1392 708.5 1388 701Z"/><path d="M1442 732L1444.5 731.5 1447.5 739.5 1445.5 741Z"/><path d="M1408.5 747L1411 746.5 1414 754.5 1412 755.5Z"/><path d="M1434 817.5L1437 817 1440 826 1438 831.5 1435.5 829 1436 823Z"/></g>
</svg>
<div class="t" id="d1a" style="left:1645.65px;top:511.00px;font-size:24px;color:#111;letter-spacing:1.600px;">日本</div>
<div class="t" id="d1b" style="left:1643.80px;top:551.50px;font-size:24px;color:#111;letter-spacing:0.750px;">34%</div>
<div class="t" id="d2a" style="left:1555.00px;top:939.00px;font-size:24px;color:#111;letter-spacing:1.600px;">中国</div>
<div class="t" id="d2b" style="left:1552.50px;top:977.00px;font-size:24px;color:#111;letter-spacing:1.000px;">17%</div>
<div class="t" id="d3a" style="left:1203.50px;top:887.25px;font-size:24px;color:#111;letter-spacing:-0.500px;">台湾<span class="h">、</span><span style="margin-left:0.2em">韓国</span></div>
<div class="t" id="d3b" style="left:1199.15px;top:925.50px;font-size:24px;color:#111;letter-spacing:-0.350px;"><span style="display:inline-block;transform:scaleX(0.82);transform-origin:0 50%;margin-right:-0.360em">その</span>他<span style="display:inline-block;transform:scaleX(0.82);transform-origin:0 50%;margin-right:-0.540em">アジア</span></div>
<div class="t" id="d3c" style="left:1231.00px;top:966.00px;font-size:24px;color:#111;letter-spacing:1.500px;">20%</div>
<div class="t" id="d4a" style="left:1197.35px;top:675.50px;font-size:24px;color:#111;letter-spacing:-0.750px;">北米</div>
<div class="t" id="d4b" style="left:1192.85px;top:715.00px;font-size:24px;color:#111;letter-spacing:0.625px;">14%</div>
<div class="t" id="d5a" style="left:1267.70px;top:515.00px;font-size:24px;color:#111;letter-spacing:1.000px;">欧州</div>
<div class="t" id="d5b" style="left:1272.50px;top:555.00px;font-size:24px;color:#111;letter-spacing:1.600px;">6%</div>
<div class="t" id="d6a" style="left:1346.70px;top:469.00px;font-size:24px;color:#111;letter-spacing:0.500px;">中東</div>
<div class="t" id="d6b" style="left:1351.20px;top:510.00px;font-size:24px;color:#111;letter-spacing:1.100px;">6%</div>
<div class="t" id="d7a" style="left:1414.20px;top:449.00px;font-size:24px;color:#111;"><span style="display:inline-block;transform:scaleX(0.82);transform-origin:0 50%;margin-right:-0.360em">その</span>他</div>
<div class="t" id="d7b" style="left:1425.80px;top:489.00px;font-size:24px;color:#111;letter-spacing:1.600px;">4%</div>
<div class="t" id="e1" style="left:1417.50px;top:656.00px;font-size:24px;color:#111;letter-spacing:1.375px;">FY25 1-3Q</div>
<div class="t" id="e2" style="left:1401.00px;top:704.50px;font-size:24px;color:#111;letter-spacing:-0.083px;">売上収益構成比</div>
<div class="t" id="e3" style="left:1429.70px;top:752.75px;font-size:24px;color:#111;letter-spacing:0.200px;">国内 34%</div>
<div class="t" id="e4" style="left:1430.70px;top:799.20px;font-size:24px;color:#111;">海外 66%</div>
<svg class="abs" style="left:0;top:0" width="1920" height="120" viewBox="0 0 1920 120">
<rect x="1802.2" y="27.9" width="64.7" height="51.1" fill="#2E5399"/>
<path fill="#F4F8FD" d="M1866.95 45.02L1860.81 45.57L1852.94 46.36L1847.44 47.14L1852.94 47.69L1859.24 48.72L1866.95 48.95ZM1823.83 51.47L1834.06 49.90L1845.07 49.66L1857.66 51.47L1848.22 53.44L1837.21 53.99L1827.77 52.89ZM1802.20 53.67L1821.47 53.83L1832.49 55.01L1837.99 56.59L1830.91 58.16L1819.90 59.34L1802.20 59.73ZM1848.22 56.98L1856.88 56.19L1866.95 55.80L1866.95 58.71L1857.66 58.55ZM1823.04 61.31L1832.49 60.13L1843.50 59.97L1853.73 61.31L1848.22 63.27L1837.21 64.06L1826.98 63.12ZM1802.20 63.43L1815.96 63.67L1826.19 64.69L1830.91 66.03L1824.62 67.21L1813.60 67.99L1802.20 69.17ZM1845.47 66.42L1854.52 65.63L1866.95 65.24L1866.95 67.99L1855.30 67.60ZM1822.26 70.35L1830.91 69.17L1841.14 68.94L1849.80 70.35L1844.29 71.53L1834.06 72.08L1825.41 71.53ZM1802.20 71.93L1813.60 72.08L1821.47 72.87L1826.19 73.89L1819.90 75.07L1812.03 75.70L1802.20 76.02Z"/>
<text x="1801.6" y="95.8" font-family="'Liberation Sans',sans-serif" font-weight="bold" font-size="18.6" fill="#8C8A86" stroke="#8C8A86" stroke-width="0.5" textLength="65.6" lengthAdjust="spacingAndGlyphs">EBARA</text>
</svg>
</body></html>
